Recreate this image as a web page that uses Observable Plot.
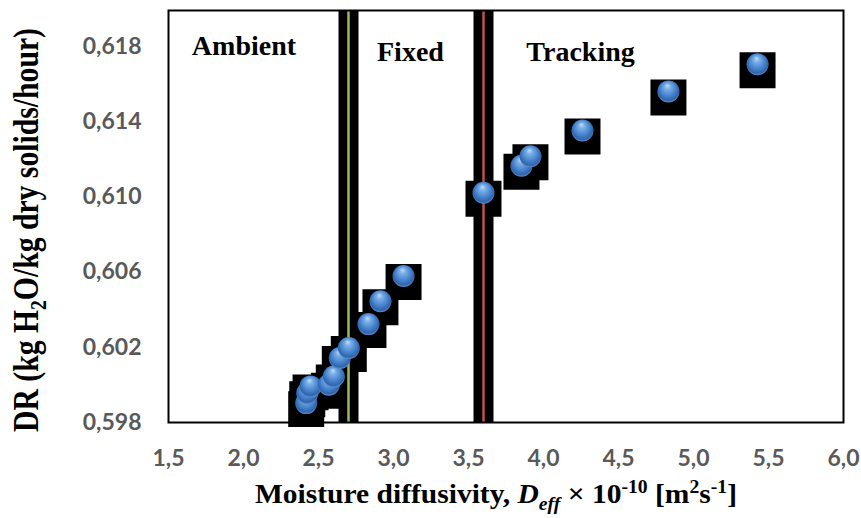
<!DOCTYPE html>
<html><head><meta charset="utf-8">
<script src="https://cdn.jsdelivr.net/npm/d3@7"></script>
<script src="https://cdn.jsdelivr.net/npm/@observablehq/plot@0.6"></script>
<style>body{margin:0;background:#fff}</style>
</head><body><div id="chart"></div>
<script>
// Moisture diffusivity (x 1e-10 m2/s) and drying rate (kg H2O/kg dry solids/hour)
const deff = [2.418, 2.425, 2.447, 2.569, 2.602, 2.642, 2.702, 2.833, 2.913, 3.067, 3.600, 3.853, 3.913, 4.260, 4.833, 5.427];
const dr   = [0.59903, 0.59956, 0.59992, 0.60001, 0.60045, 0.60143, 0.60196, 0.60323, 0.60445, 0.60579, 0.61021, 0.61165, 0.61215, 0.61352, 0.61560, 0.61704];

const regions = ["Ambient", "Fixed", "Tracking"];
const regionX = [2.003, 3.113, 4.247];
const regionY = [0.61751, 0.61724, 0.61724];

const boundaries = [2.7, 3.6];
const boundaryColors = ["#9bbb59", "#c0504d"];

const xTicks = [1.5, 2.0, 2.5, 3.0, 3.5, 4.0, 4.5, 5.0, 5.5, 6.0];
const yTicks = [0.598, 0.602, 0.606, 0.610, 0.614, 0.618];

const points = deff.map((x, i) => ({x, y: dr[i]}));
const bounds = boundaries.map((b, i) => ({b, c: boundaryColors[i]}));
const fmt = n => d => d.toFixed(n).replace(".", ",");

const tickFont = {fontFamily: "Lato, 'Open Sans', sans-serif", fontSize: 23, fontWeight: "bold", fill: "#595959", label: null};
const serif = "'Liberation Serif', 'Times New Roman', serif";

const chart = Plot.plot({
  width: 861, height: 518,
  marginLeft: 168, marginRight: 18, marginTop: 10, marginBottom: 96,
  x: {domain: [1.5, 6.0]},
  y: {domain: [0.598, 0.6199]},
  style: {background: "#fff", overflow: "visible"},
  marks: [
    Plot.ruleX(boundaries, {stroke: "black", strokeWidth: 20}),
    Plot.dot(points, {x: "x", y: "y", symbol: "square", r: 20.3, fill: "black", dy: 6}),
    ...bounds.map(d => Plot.ruleX([d.b], {stroke: d.c, strokeWidth: 2.5})),
    Plot.dot(points, {x: "x", y: "y", r: 11, fill: "url(#sphere)"}),
    Plot.frame({stroke: "black", strokeWidth: 2}),
    Plot.axisX({ticks: xTicks, tickSize: 0, tickPadding: 27, tickFormat: fmt(1), ...tickFont}),
    Plot.axisY({ticks: yTicks, tickSize: 0, tickPadding: 27, tickFormat: fmt(3), ...tickFont}),
    Plot.text(regions, {x: (d, i) => regionX[i], y: (d, i) => regionY[i], text: d => d,
      lineAnchor: "bottom", fontFamily: serif, fontSize: 28, fontWeight: "bold", fill: "black"})
  ]
});

const svg = d3.select(chart);
const defs = svg.insert("defs", ":first-child");
const g = defs.append("radialGradient").attr("id", "sphere")
  .attr("cx", "50%").attr("cy", "45%").attr("r", "55%").attr("fx", "45%").attr("fy", "22%");
[["0%", "#c4defa"], ["25%", "#7aaee6"], ["60%", "#4a86d0"], ["88%", "#2f65ad"], ["100%", "#5f90cc"]]
  .forEach(([o, c]) => g.append("stop").attr("offset", o).attr("stop-color", c));

// y-axis title
const yt = svg.append("text")
  .attr("transform", "translate(37.5,230) scale(1.2,1) rotate(-90)")
  .attr("text-anchor", "middle")
  .attr("textLength", 404).attr("lengthAdjust", "spacingAndGlyphs")
  .attr("font-family", serif).attr("font-size", 29).attr("font-weight", "bold").attr("fill", "black");
yt.append("tspan").text("DR (kg H");
yt.append("tspan").attr("font-size", 19).attr("dy", 7).text("2");
yt.append("tspan").attr("dy", -7).text("O/kg dry solids/hour)");

// x-axis title
const xt = svg.append("text")
  .attr("x", 496).attr("y", 503)
  .attr("text-anchor", "middle")
  .attr("textLength", 482).attr("lengthAdjust", "spacingAndGlyphs")
  .attr("font-family", serif).attr("font-size", 27).attr("font-weight", "bold").attr("fill", "black");
xt.append("tspan").text("Moisture diffusivity, ");
xt.append("tspan").attr("font-style", "italic").text("D");
xt.append("tspan").attr("font-style", "italic").attr("font-size", 18).attr("dy", 7).text("eff");
xt.append("tspan").attr("dy", -7).text(" × 10");
xt.append("tspan").attr("font-size", 18).attr("dy", -10).text("-10");
xt.append("tspan").attr("dy", 10).text(" [m");
xt.append("tspan").attr("font-size", 18).attr("dy", -10).text("2");
xt.append("tspan").attr("dy", 10).text("s");
xt.append("tspan").attr("font-size", 18).attr("dy", -10).text("-1");
xt.append("tspan").attr("dy", 10).text("]");

document.getElementById("chart").append(chart);
</script>
</body></html>
